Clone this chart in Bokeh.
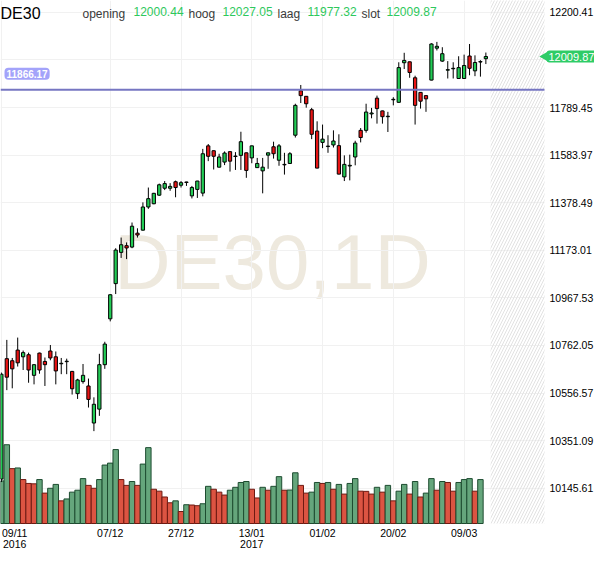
import math
from bokeh.plotting import figure
from bokeh.models import ColumnDataSource, Range1d, FixedTicker, Label
from bokeh.embed import file_html
from bokeh.resources import INLINE
from bokeh.core.properties import value

symbol = "DE30"
watermark = "DE30,1D"
header_words = ["opening", "hoog", "laag", "slot"]

opens = [10185, 10705, 10696, 10742, 10713, 10722, 10633, 10729, 10693, 10738,
         10713, 10683, 10692, 10650, 10554, 10606, 10587, 10427, 10487, 10679,
         10877, 11029, 11164, 11193, 11187, 11247, 11260, 11360, 11374, 11411,
         11441, 11441, 11469, 11454, 11468, 11408, 11436, 11420, 11624, 11603,
         11532, 11554, 11599, 11578, 11583, 11594, 11572, 11530, 11516, 11584,
         11620, 11562, 11542, 11548, 11670, 11862, 11838, 11780, 11688, 11639,
         11621, 11628, 11625, 11490, 11537, 11576, 11691, 11691, 11762, 11830,
         11775, 11750, 11823, 11812, 11983, 11987, 11918, 11855, 11841, 11908,
         12046, 11990, 11951, 11957, 11915, 11915, 12012, 11948, 11986, 12000.44]
highs = [10645, 10786, 10708, 10796, 10740, 10731, 10681, 10731, 10710, 10764,
         10736, 10708, 10705, 10652, 10618, 10682, 10619, 10538, 10726, 10778,
         10983, 11182, 11228, 11207, 11293, 11268, 11380, 11444, 11421, 11461,
         11472, 11463, 11474, 11472, 11469, 11451, 11473, 11611, 11632, 11604,
         11590, 11600, 11600, 11597, 11685, 11595, 11625, 11572, 11572, 11595,
         11642, 11632, 11594, 11597, 11806, 11887, 11839, 11788, 11730, 11716,
         11670, 11691, 11674, 11583, 11586, 11646, 11701, 11806, 11788, 11841,
         11776, 11771, 11834, 11985, 12026, 11988, 11927, 11856, 11842, 12067,
         12073, 12050, 11990, 11985, 12011, 12018, 12064, 12015, 11994, 12027.05]
lows = [10172, 10569, 10577, 10671, 10656, 10601, 10594, 10640, 10587, 10698,
        10594, 10638, 10638, 10550, 10531, 10597, 10494, 10392, 10458, 10661,
        10866, 10984, 11140, 11135, 11182, 11228, 11258, 11352, 11372, 11408,
        11433, 11430, 11402, 11444, 11451, 11397, 11399, 11406, 11558, 11522,
        11531, 11541, 11513, 11520, 11520, 11486, 11549, 11529, 11419, 11525,
        11569, 11538, 11500, 11547, 11660, 11809, 11789, 11653, 11527, 11614,
        11594, 11617, 11501, 11472, 11475, 11540, 11639, 11681, 11743, 11720,
        11720, 11684, 11799, 11811, 11956, 11918, 11716, 11785, 11771, 11907,
        12036, 11987, 11915, 11915, 11914, 11914, 11929, 11925, 11923, 11977.32]
closes = [10638, 10625, 10661, 10687, 10731, 10656, 10679, 10656, 10679, 10708,
          10652, 10685, 10694, 10575, 10613, 10633, 10529, 10508, 10679, 10768,
          10981, 11174, 11197, 11183, 11277, 11239, 11360, 11396, 11419, 11456,
          11461, 11449, 11444, 11465, 11466, 11444, 11472, 11590, 11579, 11579,
          11576, 11593, 11558, 11580, 11642, 11518, 11624, 11548, 11532, 11594,
          11590, 11624, 11544, 11590, 11799, 11841, 11806, 11674, 11528, 11653,
          11623, 11645, 11502, 11544, 11540, 11636, 11660, 11770, 11766, 11785,
          11750, 11752, 11825, 11962, 11993, 11941, 11799, 11817, 11827, 12064,
          12054, 12022, 11953, 11959, 11962, 11971, 11959, 11984, 11988, 12009.87]
volumes = [4400, 8140, 5670, 5740, 4540, 4140, 4100, 4540, 3140, 3640,
           4040, 2340, 2540, 3240, 3440, 4640, 3940, 3640, 4540, 6040,
           6240, 7640, 4540, 3940, 4340, 3940, 6140, 7840, 3540, 3340,
           2740, 2140, 2340, 1240, 1940, 1910, 1840, 2040, 3840, 3540,
           3240, 2940, 3440, 3740, 4240, 4340, 3540, 2640, 3740, 3440,
           3840, 4840, 3440, 3460, 5240, 3940, 3140, 3240, 4240, 4140,
           4240, 3540, 4040, 3040, 4140, 4640, 3340, 3320, 3040, 3740,
           3240, 3940, 2340, 3340, 4040, 3040, 4340, 2740, 3140, 4640,
           3440, 4340, 4240, 3340, 4240, 4540, 4640, 3340, 4540]

tick_index = [0, 20, 33, 46, 59, 72, 85]
tick_labels = ["09/11\n2016", "07/12", "27/12", "13/01\n2017", "01/02", "20/02", "09/03"]
price_ticks = [10145.61, 10351.09, 10556.57, 10762.05, 10967.53, 11173.01,
               11378.49, 11583.97, 11789.45, 11994.93, 12200.41]
level_price = 11866.17

# ---------------------------------------------------------------- layout
FONT = "Liberation Sans"
GREEN = "#22cc55"
RED = "#e81414"
FW, FH = 594, 552            # canvas == frame
PW, PH = 544, 523            # price/volume panel inside the frame
n = len(closes)
idx = list(range(n))
x0, x1 = -0.16, 99.77        # visible bar range of the panel
y0, y1 = 9993.1, 12251.8     # visible price range of the panel
vol_top = 54050
full_x1 = x0 + FW * (x1 - x0) / PW
full_y0 = y1 - FH * (y1 - y0) / PH
vol_start = -(FH - PH) * vol_top / PH

up = [c >= o for o, c in zip(opens, closes)]
candles = ColumnDataSource(dict(
    x=idx, high=highs, low=lows,
    top=[max(o, c) for o, c in zip(opens, closes)],
    bottom=[min(o, c) for o, c in zip(opens, closes)],
    color=[GREEN if u else RED for u in up],
))
vol_up = [True] + [volumes[i] > volumes[i - 1] for i in range(1, len(volumes))]
vols = ColumnDataSource(dict(
    x=idx[:len(volumes)], top=volumes,
    fill=["#65a67c" if u else "#dc5442" for u in vol_up],
    line=["#1d4c30" if u else "#6e1a12" for u in vol_up],
))

p = figure(width=FW, height=FH, output_backend="svg", toolbar_location=None,
           x_range=Range1d(x0, full_x1), y_range=Range1d(full_y0, y1),
           y_axis_location="right", min_border=0)
p.outline_line_color = None
p.background_fill_color = "white"
p.border_fill_color = "white"
p.extra_y_ranges = {"vol": Range1d(vol_start, vol_top)}

# grid
p.xgrid.ticker = FixedTicker(ticks=tick_index)
p.ygrid.ticker = FixedTicker(ticks=price_ticks)
p.grid.grid_line_color = "#f1f1f1"
p.grid.grid_line_width = 1

for ax in (p.xaxis, p.yaxis):
    ax.axis_line_color = None
    ax.major_tick_line_color = None
    ax.minor_tick_line_color = None
    ax.major_tick_out = 0
    ax.major_tick_in = 0
    ax.minor_tick_out = 0
    ax.minor_tick_in = 0
    ax.major_label_text_font = FONT
    ax.major_label_text_color = "black"

# x axis (drawn along the bottom of the price panel)
first_shift = 2.45
xt = [first_shift] + tick_index[1:]
p.xaxis.fixed_location = y0
p.xaxis.ticker = FixedTicker(ticks=xt)
p.xaxis.major_label_overrides = {t: lab for t, lab in zip(xt, tick_labels)}
p.xaxis.major_label_standoff = 3
p.xaxis.major_label_text_font_size = "10.5px"
p.xaxis.major_label_text_line_height = 0.92

# y axis (drawn along the right edge of the price panel)
p.yaxis.fixed_location = x1
p.yaxis.ticker = FixedTicker(ticks=price_ticks)
p.yaxis.major_label_overrides = {11994.93: ""}
p.yaxis.major_label_standoff = 5
p.yaxis.major_label_text_font_size = "10.5px"

# watermark
p.text(x=[(x0 + x1) / 2], y=[(y0 + y1) / 2], text=[watermark],
       text_font=value(FONT), text_font_size="78px", text_color="#eee9de",
       text_align="center", text_baseline="middle", level="image")

# white margins over the grid (axis areas)
p.quad(left=[x1, x0 - 1], right=[full_x1 + 1, full_x1 + 1],
       bottom=[full_y0 - 50, full_y0 - 50], top=[y1 + 50, y0],
       fill_color="white", line_color=None)

# future (hatched) zone
p.quad(left=[n - 0.13], right=[x1], bottom=[y0], top=[y1 + 50],
       fill_alpha=0, line_alpha=0, hatch_pattern="/", hatch_color="#e2e2e2",
       hatch_scale=6, hatch_weight=1)

# volume
p.vbar(x="x", top="top", bottom=0, width=1.0, source=vols, y_range_name="vol",
       fill_color="fill", line_color="line", line_width=1)

# candles
p.segment(x0="x", y0="high", x1="x", y1="low", source=candles,
          line_color="black", line_width=1)
p.vbar(x="x", top="top", bottom="bottom", width=0.6, source=candles,
       fill_color="color", line_color="black", line_width=1)

# level line
p.segment(x0=[x0], x1=[x1], y0=[level_price], y1=[level_price],
          line_color="#7676c2", line_width=2)
p.add_layout(Label(x=x0, y=level_price, x_offset=4, y_offset=10,
                   text=f"{level_price:.2f}", text_font=FONT,
                   text_font_size="10px", text_font_style="bold",
                   text_color="white", text_baseline="bottom",
                   background_fill_color="#a3a3fa", padding=2,
                   border_radius=4))

# last price badge on the axis
p.scatter(x=[x1], y=[closes[-1]], marker="triangle", size=9,
          angle=math.pi / 2, fill_color="#2ecc66", line_color=None)
p.add_layout(Label(x=x1, y=closes[-1], x_offset=2,
                   text=f"{closes[-1]:.2f}", text_font=FONT,
                   text_font_size="11px", text_color="white",
                   text_baseline="middle",
                   background_fill_color="#2ecc66", padding=2,
                   border_radius=3))

# header line
p.add_layout(Label(x=x0, y=y1, x_offset=0, y_offset=-12.5, text=symbol,
                   text_font=FONT, text_font_size="16px", text_color="black",
                   text_baseline="alphabetic"))
vals = [opens[-1], highs[-1], lows[-1], closes[-1]]
word_x = [82, 188, 277, 361]
val_x = [133, 222, 307, 386]
for w, v, wx, vx in zip(header_words, vals, word_x, val_x):
    p.add_layout(Label(x=x0, y=y1, x_offset=wx, y_offset=-13.5, text=w,
                       text_font=FONT, text_font_size="12px", text_color="#3a3a3a",
                       text_baseline="alphabetic"))
    p.add_layout(Label(x=x0, y=y1, x_offset=vx, y_offset=-11, text=f"{v:.2f}",
                       text_font=FONT, text_font_size="12px", text_color="#2ec85c",
                       text_baseline="alphabetic"))

open("out.html", "w").write(file_html(p, INLINE))
